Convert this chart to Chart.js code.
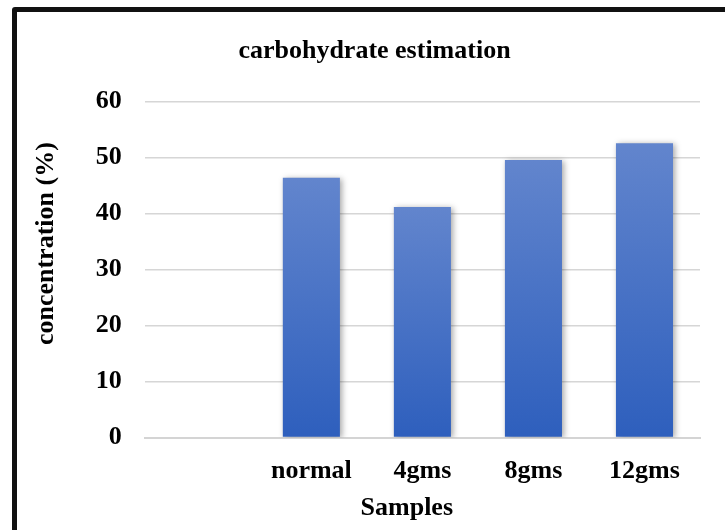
<!DOCTYPE html>
<html>
<head>
<meta charset="utf-8">
<script src="https://cdn.jsdelivr.net/npm/chart.js@4.4.0/dist/chart.umd.min.js"></script>
<style>
    body { margin: 0; background: #fff; overflow: hidden; }
    #frame {
        position: absolute; left: 12px; top: 7px;
        width: 725px; height: 560px;
        border: 5px solid #111; border-radius: 3px;
        box-sizing: border-box; background: #fff;
    }
    #wrap { position: absolute; left: 0; top: 0; width: 715px; height: 520px; }
</style>
</head>
<body>
<div id="frame"><div id="wrap"><canvas id="carbChart"></canvas></div></div>
<script>
// Data kategori dan nilai
const categories = ['', 'normal', '4gms', '8gms', '12gms'];
const concentration = [null, 46.4, 41.2, 49.6, 52.6];
const yTicks = [0, 10, 20, 30, 40, 50, 60];

const FONT = 'Liberation Serif, Times New Roman, serif';

// Bayangan tipis di belakang batang
const barShadow = {
    id: 'barShadow',
    beforeDatasetsDraw(chart) {
        const c = chart.ctx;
        c.save();
        c.shadowColor = 'rgba(0,0,0,0.35)';
        c.shadowBlur = 6;
        c.shadowOffsetX = 2;
        c.shadowOffsetY = 1;
    },
    afterDatasetsDraw(chart) {
        chart.ctx.restore();
    }
};

function barGradient(ctx) {
    const chart = ctx.chart;
    if (!chart.chartArea || ctx.raw == null) return '#3a68c2';
    const y = chart.scales.y;
    const top = y.getPixelForValue(ctx.raw);
    const bottom = y.getPixelForValue(0);
    const g = chart.ctx.createLinearGradient(0, top, 0, bottom);
    g.addColorStop(0, '#6285cd');
    g.addColorStop(1, '#2e5fbd');
    return g;
}

const ctx = document.getElementById('carbChart').getContext('2d');
const carbChart = new Chart(ctx, {
    type: 'bar',
    data: {
        labels: categories,
        datasets: [{
            label: 'concentration',
            data: concentration,
            backgroundColor: barGradient,
            categoryPercentage: 0.514,
            barPercentage: 1
        }]
    },
    options: {
        responsive: true,
        maintainAspectRatio: false,
        animation: false,
        layout: { padding: { left: 32, right: 32, top: 0, bottom: 0 } },
        plugins: {
            legend: { display: false },
            tooltip: { enabled: false },
            title: {
                display: true,
                text: 'carbohydrate estimation',
                color: '#000',
                font: { family: FONT, size: 26, weight: 'bold' },
                padding: { top: 23.5, bottom: 35 }
            }
        },
        scales: {
            x: {
                grid: { display: false, drawTicks: false },
                border: { display: true, color: '#d4d4d4', width: 2 },
                ticks: {
                    color: '#000',
                    padding: 18,
                    font: { family: FONT, size: 26, weight: 'bold' }
                },
                title: {
                    display: true,
                    // spasi di belakang menggeser judul sedikit ke kiri
                    text: 'Samples\u2002\u2002\u2009',
                    color: '#000',
                    font: { family: FONT, size: 26, weight: 'bold' },
                    padding: { top: -12, bottom: 8 }
                }
            },
            y: {
                min: 0,
                max: 60,
                afterBuildTicks(axis) {
                    axis.ticks = yTicks.map(v => ({ value: v }));
                },
                grid: { color: '#d6d6d6', lineWidth: 1.5, drawTicks: false },
                border: { display: false },
                ticks: {
                    color: '#000',
                    padding: 23,
                    font: { family: FONT, size: 26, weight: 'bold' }
                },
                title: {
                    display: true,
                    // spasi di depan menggeser judul ke atas
                    text: '\u2002\u2002\u2002\u2002concentration (%)',
                    color: '#000',
                    font: { family: FONT, size: 26, weight: 'bold' },
                    padding: { top: -18.4, bottom: 11 }
                }
            }
        }
    },
    plugins: [barShadow]
});
</script>
</body>
</html>
